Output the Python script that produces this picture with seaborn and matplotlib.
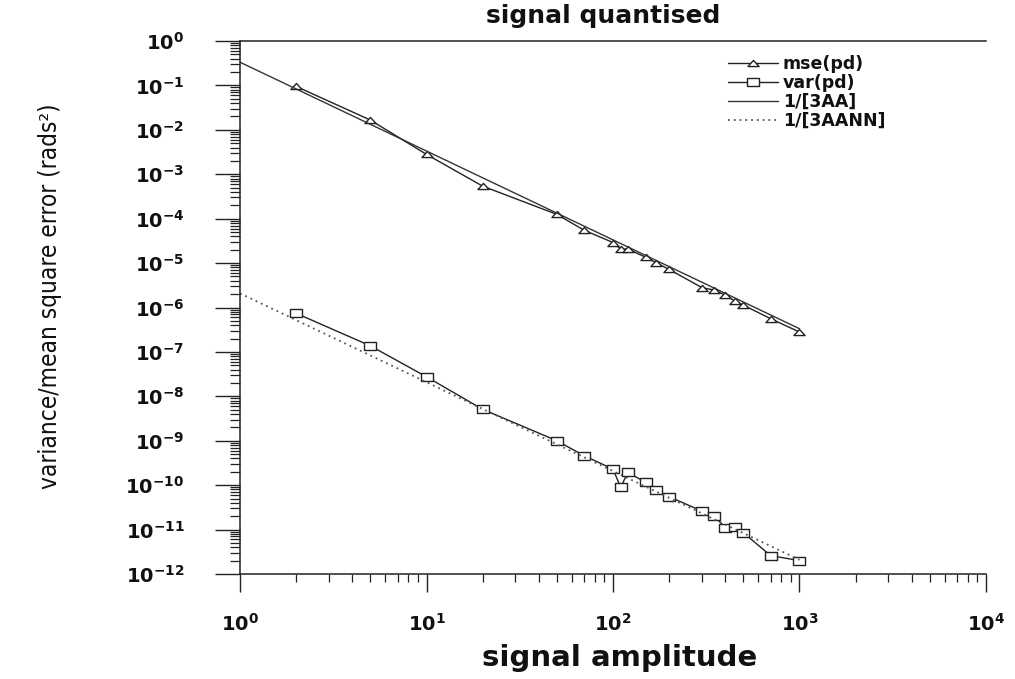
import numpy as np
import pandas as pd
import matplotlib
matplotlib.use("Agg")
import matplotlib.pyplot as plt
from matplotlib.path import Path
from matplotlib.ticker import LogLocator, LogFormatterSciNotation, NullFormatter
import seaborn as sns

# ---- data -------------------------------------------------------------
amplitude = [2, 5, 10, 20, 50, 70, 100, 110, 120, 150, 170, 200,
             300, 350, 400, 450, 500, 700, 1000]
mse_pd = [0.095, 0.0166, 2.8e-3, 5.4e-4, 1.25e-4, 5.5e-5, 2.9e-5, 2.07e-5,
          2.07e-5, 1.35e-5, 1.02e-5, 7.2e-6, 2.8e-6, 2.46e-6, 1.9e-6,
          1.4e-6, 1.13e-6, 5.6e-7, 2.8e-7]
var_pd = [7.4e-7, 1.37e-7, 2.75e-8, 5.1e-9, 1.0e-9, 4.6e-10, 2.3e-10,
          8.9e-11, 1.94e-10, 1.15e-10, 7.9e-11, 5.5e-11, 2.6e-11, 2.0e-11,
          1.1e-11, 1.15e-11, 8.5e-12, 2.6e-12, 2.0e-12]

# straight reference lines (end points)
ref_amplitude = [1, 1000]
ref_3aa = [0.333, 3.33e-7]
ref_3aann = [2.08e-6, 2.08e-12]

labels = ["mse(pd)", "var(pd)", "1/[3AA]", "1/[3AANN]"]

# ---- style ------------------------------------------------------------
sns.set_theme(style="ticks")
plt.rcParams["font.family"] = ["DejaVu Sans"]
plt.rcParams["axes.unicode_minus"] = True

ink = "#222222"

fig = plt.figure(figsize=(10.15, 6.79), dpi=100)
ax = fig.add_axes([240 / 1015, 1 - 574 / 679, (986 - 240) / 1015, (574 - 41) / 679])

tri = Path([(-1, -0.55), (1, -0.55), (0, 0.55), (-1, -0.55)],
           [Path.MOVETO, Path.LINETO, Path.LINETO, Path.CLOSEPOLY])
box = Path([(-1, -0.6), (1, -0.6), (1, 0.6), (-1, 0.6), (-1, -0.6)],
           [Path.MOVETO, Path.LINETO, Path.LINETO, Path.LINETO, Path.CLOSEPOLY])

df = pd.DataFrame({"amplitude": amplitude, "mse": mse_pd, "var": var_pd})
ref = pd.DataFrame({"amplitude": ref_amplitude, "aa": ref_3aa, "aann": ref_3aann})

sns.lineplot(data=df, x="amplitude", y="mse", ax=ax, estimator=None, sort=False,
             color=ink, linewidth=1.0, marker=tri, markersize=8,
             markerfacecolor="white", markeredgecolor=ink, markeredgewidth=1.0,
             label=labels[0])
sns.lineplot(data=df, x="amplitude", y="var", ax=ax, estimator=None, sort=False,
             color=ink, linewidth=1.0, marker=box, markersize=9,
             markerfacecolor="white", markeredgecolor=ink, markeredgewidth=1.0,
             label=labels[1])
sns.lineplot(data=ref, x="amplitude", y="aa", ax=ax, estimator=None, sort=False,
             color="#333333", linewidth=1.0, label=labels[2])
sns.lineplot(data=ref, x="amplitude", y="aann", ax=ax, estimator=None, sort=False,
             color="#555555", linewidth=1.3, linestyle=(0, (1, 2.2)),
             label=labels[3])

ax.set_xscale("log")
ax.set_yscale("log")
ax.set_xlim(1, 1e4)
ax.set_ylim(1e-12, 1)

ax.xaxis.set_major_locator(LogLocator(base=10, numticks=20))
ax.yaxis.set_major_locator(LogLocator(base=10, numticks=30))
ax.xaxis.set_minor_locator(LogLocator(base=10, subs=np.arange(2, 10), numticks=200))
ax.yaxis.set_minor_locator(LogLocator(base=10, subs=np.arange(2, 10), numticks=200))
ax.xaxis.set_minor_formatter(NullFormatter())
ax.yaxis.set_minor_formatter(NullFormatter())
ax.xaxis.set_major_formatter(LogFormatterSciNotation())
ax.yaxis.set_major_formatter(LogFormatterSciNotation())

ax.tick_params(axis="y", which="major", length=18, width=1.0, color=ink,
               direction="out", pad=22, labelsize=14, labelcolor="#111111")
ax.tick_params(axis="y", which="minor", length=7, width=0.9, color=ink,
               direction="out")
ax.tick_params(axis="x", which="major", length=13, width=1.0, color=ink,
               direction="out", pad=15, labelsize=14, labelcolor="#111111")
ax.tick_params(axis="x", which="minor", length=6, width=0.9, color=ink,
               direction="out")
for lab in ax.get_xticklabels() + ax.get_yticklabels():
    lab.set_fontweight("bold")

for side in ("left", "bottom", "top"):
    ax.spines[side].set_color(ink)
    ax.spines[side].set_linewidth(1.1)
ax.spines["right"].set_visible(False)

ax.set_xlabel("")
ax.set_ylabel("")

fig.text(0.594, 1 - 16 / 679, "signal quantised", ha="center", va="center",
         fontsize=18, fontweight="bold", color="#111111")
fig.text(0.61, 1 - 658 / 679, "signal amplitude", ha="center", va="center",
         fontsize=21, fontweight="bold", color="#111111")
fig.text(50 / 1015, 1 - 296 / 679, "variance/mean square error (rads²)",
         rotation=90, ha="center", va="center", fontsize=17.5,
         family=["Liberation Sans Narrow", "DejaVu Sans"], fontstretch="condensed",
         color="#111111")

leg = ax.legend(loc="upper left", bbox_to_anchor=(728 / 1015, 1 - 55 / 679),
                bbox_transform=fig.transFigure, frameon=False, borderpad=0,
                borderaxespad=0, labelspacing=0.05, handlelength=2.9,
                handletextpad=0.25,
                prop={"family": "DejaVu Sans", "weight": "bold", "size": 12.5})
for t in leg.get_texts():
    t.set_color("#111111")

fig.savefig("out.png", dpi=100)
